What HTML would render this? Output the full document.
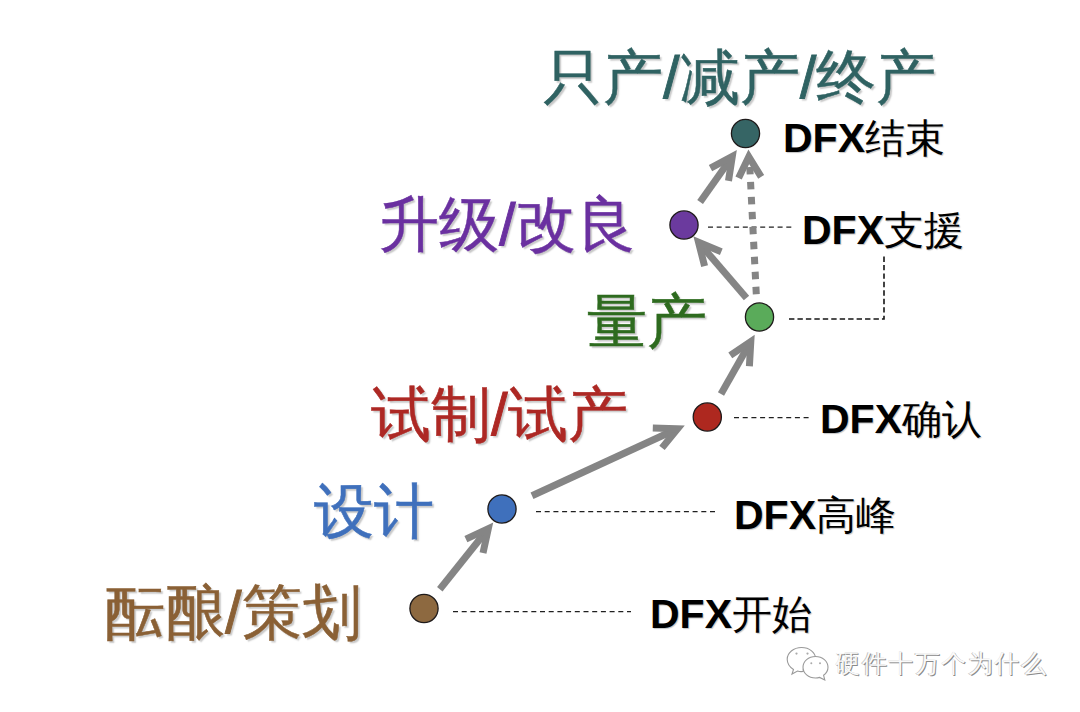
<!DOCTYPE html>
<html><head><meta charset="utf-8">
<style>
html,body{margin:0;padding:0;background:#fff;}
body{width:1080px;height:712px;position:relative;overflow:hidden;font-family:"Liberation Sans",sans-serif;}
.t{position:absolute;white-space:nowrap;line-height:1;}
.h{font-size:60px;text-shadow:2px 2px 1.5px #c8c8c8;-webkit-text-stroke:0.5px currentColor;}
.sl{font-family:"Liberation Sans",sans-serif;font-weight:normal;-webkit-text-stroke:0.9px currentColor;}
.d{font-size:40px;color:#000;text-shadow:1px 1px 1px #c4c4c4;}
.d b{font-weight:bold;margin-right:0;font-size:41px;}
svg{position:absolute;left:0;top:0;}
</style></head><body>
<svg width="1080" height="712" viewBox="0 0 1080 712">
  <g fill="none" stroke="#202020" stroke-width="1.25" stroke-dasharray="5 3.7">
    <line x1="708" y1="227" x2="795" y2="227"/>
    <line x1="734" y1="417.5" x2="810" y2="417.5"/>
    <line x1="536" y1="511.5" x2="715" y2="511.5"/>
    <line x1="453" y1="611.5" x2="631" y2="611.5"/>
  </g>
  <polyline points="789,319 884,319 884,255" fill="none" stroke="#151515" stroke-width="1.6" stroke-dasharray="5.4 3.05"/>
  <!-- arrows -->
  <g stroke="#858585" fill="none" stroke-linejoin="miter" stroke-miterlimit="10">
<line x1="439.8" y1="589.3" x2="487.0" y2="530.3" stroke-width="7"/>
<polyline points="483.0,552.9 488.3,528.7 465.9,539.1" stroke-width="7"/>
<line x1="532.0" y1="495.7" x2="675.7" y2="429.5" stroke-width="7"/>
<polyline points="662.0,447.9 677.6,428.7 652.8,428.0" stroke-width="7"/>
<line x1="721.0" y1="394.0" x2="749.8" y2="343.3" stroke-width="7"/>
<polyline points="749.4,366.2 750.8,341.5 730.3,355.3" stroke-width="7"/>
<line x1="746.5" y1="298.0" x2="699.8" y2="243.7" stroke-width="7"/>
<polyline points="721.3,251.8 698.5,242.2 704.6,266.1" stroke-width="7"/>
<line x1="700.1" y1="202.0" x2="731.1" y2="158.2" stroke-width="7"/>
<polyline points="728.5,180.9 732.3,156.5 710.5,168.2" stroke-width="7"/>
<line x1="756.3" y1="294.2" x2="749.8" y2="167" stroke-width="7" stroke-dasharray="7.5 7.5"/>
<polyline points="761.2,176.8 748.8,156.8 738.6,178.1" stroke-width="7"/>

</g>
  <g fill="#fff" stroke="#1e1a1a" stroke-width="1.3">
    <circle cx="745.5" cy="133.5" r="14.1" fill="#366565"/>
    <circle cx="684" cy="225" r="14.1" fill="#6b3a9e"/>
    <circle cx="759.5" cy="317" r="14.1" fill="#5aab5a"/>
    <circle cx="707.3" cy="417" r="14.1" fill="#ae281f"/>
    <circle cx="502" cy="509" r="14.1" fill="#3f70bc"/>
    <circle cx="424" cy="608.5" r="14.1" fill="#8d6940"/>
  </g>
  <g fill="#fff" stroke="#9a9a9a" stroke-width="1.1">
    <path d="M801.5,647.5 C809.5,647.5 815.5,652.5 815.8,659 C808,660 803,665 803.2,671.5 C801,671.8 799,671.6 797.5,671 L792,674 L793.5,669.5 C789.5,667 787.2,663 787.2,659.3 C787.2,652.8 793.5,647.5 801.5,647.5 Z"/>
    <path d="M815.5,656.5 C822.5,656.5 828,661.3 828,667.2 C828,670.5 826.2,673.4 823.6,675.3 L824.8,680 L819.6,677.4 C818.3,677.8 816.9,678 815.5,678 C808.5,678 803,673.2 803,667.2 C803,661.3 808.5,656.5 815.5,656.5 Z"/>
  </g>
  <g fill="#aaa">
    <circle cx="796.5" cy="653.6" r="1.1"/><circle cx="807.5" cy="653.6" r="1.1"/>
    <circle cx="811.3" cy="663.2" r="1"/><circle cx="820" cy="663.2" r="1"/>
  </g>
</svg>
<div class="t h" id="h1" style="left:543px;top:48px;color:#2f6262">只产<span class="sl">/</span>减产<span class="sl">/</span>终产</div>
<div class="t h" id="h2" style="left:379px;top:195px;color:#6a30a0">升级<span class="sl">/</span>改良</div>
<div class="t h" id="h3" style="left:587px;top:292px;color:#2e6b1f">量产</div>
<div class="t h" id="h4" style="left:371px;top:385px;color:#ad2824">试制<span class="sl">/</span>试产</div>
<div class="t h" id="h5" style="left:314px;top:482px;color:#3f70bc">设计</div>
<div class="t h" id="h6" style="left:105px;top:583px;color:#8a6035">酝酿<span class="sl">/</span>策划</div>
<div class="t d" id="d1" style="left:783px;top:118px"><b>DFX</b>结束</div>
<div class="t d" id="d2" style="left:802px;top:210px"><b>DFX</b>支援</div>
<div class="t d" id="d3" style="left:820px;top:399px"><b>DFX</b>确认</div>
<div class="t d" id="d4" style="left:734px;top:495px"><b>DFX</b>高峰</div>
<div class="t d" id="d5" style="left:650px;top:594px"><b>DFX</b>开始</div>
<div class="t" id="wm" style="left:835px;top:651px;font-size:25px;letter-spacing:1.5px;color:#fafafa;text-shadow:1px 1px 0 #8a8a8a,-0.5px -0.5px 0.5px #c0c0c0">硬件十万个为什么</div>
</body></html>
